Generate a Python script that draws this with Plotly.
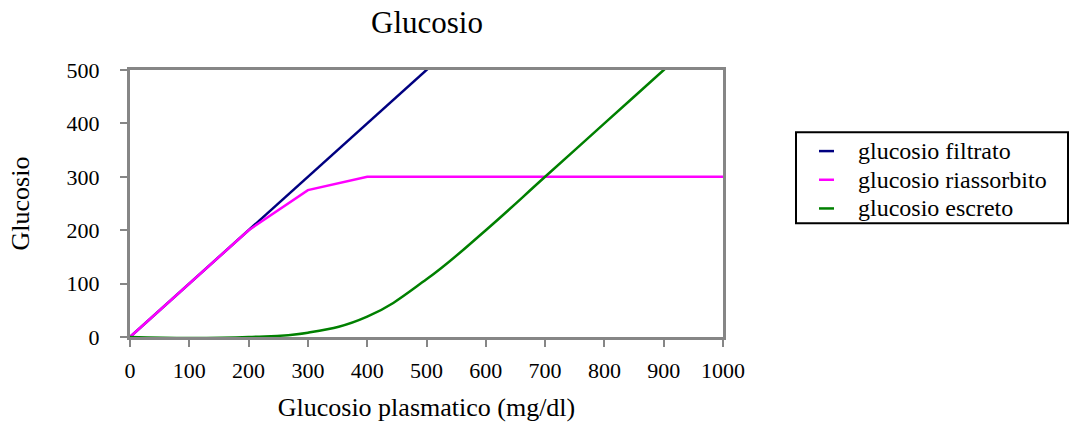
import plotly.graph_objects as go

x_plasma = [0, 100, 200, 300, 400, 500, 600, 700, 800, 900, 1000]
filtrato = [0, 100, 200, 300, 400, 500, 600, 700, 800, 900, 1000]
riassorbito = [0, 100, 200, 275, 300, 300, 300, 300, 300, 300, 300]
escreto = [0, -2, 0, 8, 38, 108, 200, 300, 400, 500, 600]

series_names = ["glucosio filtrato", "glucosio riassorbito", "glucosio escreto"]
series_colors = ["#000080", "#FF00FF", "#008000"]

x_ticks = [0, 100, 200, 300, 400, 500, 600, 700, 800, 900, 1000]
y_ticks = [0, 100, 200, 300, 400, 500]

FONT = "Liberation Serif"

fig = go.Figure()
fig.add_trace(go.Scatter(x=x_plasma, y=filtrato, mode="lines", name=series_names[0],
                         line=dict(color=series_colors[0], width=2.5)))
fig.add_trace(go.Scatter(x=x_plasma, y=riassorbito, mode="lines", name=series_names[1],
                         line=dict(color=series_colors[1], width=2.5)))
fig.add_trace(go.Scatter(x=x_plasma, y=escreto, mode="lines", name=series_names[2],
                         line=dict(color=series_colors[2], width=2.5, shape="spline", smoothing=1.2)))

axis_common = dict(showline=True, mirror=True, linecolor="#868686", linewidth=3,
                   ticks="outside", ticklen=7, tickwidth=2, tickcolor="#868686",
                   showgrid=False, zeroline=False,
                   tickfont=dict(family=FONT, size=22, color="black"))

fig.update_xaxes(range=[0, 1000], tickvals=x_ticks, ticktext=[str(v) for v in x_ticks],
                 title=dict(text="Glucosio plasmatico (mg/dl)", font=dict(family=FONT, size=26, color="black"),
                            standoff=16),
                 ticklabelstandoff=5, **axis_common)
fig.update_yaxes(range=[0, 500], tickvals=y_ticks, ticktext=[str(v) for v in y_ticks],
                 title=dict(text="Glucosio", font=dict(family=FONT, size=26, color="black"), standoff=30),
                 ticklabelstandoff=16, **axis_common)

# manual legend (pixel -> paper conversion)
L, R, T, B = 130, 723, 70, 340
def px(xp):
    return (xp - L) / (R - L)
def py(yp):
    return (B - yp) / (B - T)

shapes = [dict(type="rect", xref="paper", yref="paper", x0=px(796), x1=px(1068), y0=py(133), y1=py(225),
               line=dict(color="black", width=2), fillcolor="white", layer="above")]
annotations = []
item_y = [152, 181, 210]
for name, color, yy in zip(series_names, series_colors, item_y):
    shapes.append(dict(type="line", xref="paper", yref="paper", x0=px(819), x1=px(834), y0=py(yy), y1=py(yy),
                       line=dict(color=color, width=2.5), layer="above"))
    annotations.append(dict(xref="paper", yref="paper", x=px(856), y=py(yy), xanchor="left", yanchor="middle",
                            text=name, showarrow=False, font=dict(family=FONT, size=24, color="black")))

fig.update_layout(
    width=1070, height=430,
    margin=dict(l=L, r=1070 - R, t=T, b=430 - B),
    paper_bgcolor="white", plot_bgcolor="white",
    title=dict(text="Glucosio", x=427 / 1070, xanchor="center", y=1 - 22 / 430, yanchor="middle",
               font=dict(family=FONT, size=31, color="black")),
    font=dict(family=FONT, color="black"),
    showlegend=False,
    shapes=shapes,
    annotations=annotations,
)

fig.write_html("out.html")
